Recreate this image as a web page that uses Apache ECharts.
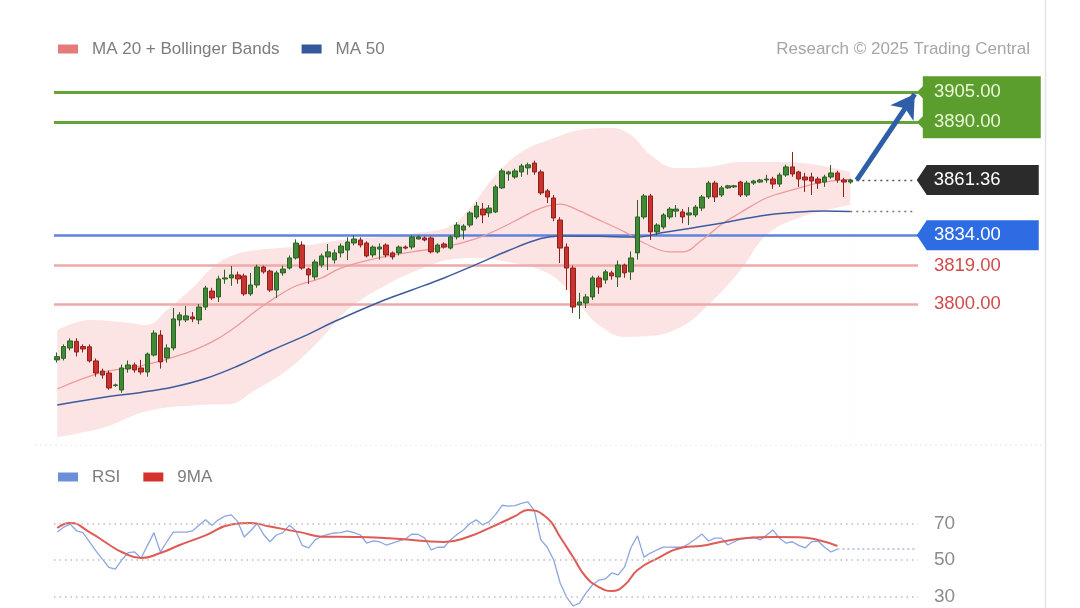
<!DOCTYPE html>
<html><head><meta charset="utf-8">
<script src="https://cdn.jsdelivr.net/npm/echarts/dist/echarts.min.js"></script>
<style>html,body{margin:0;padding:0;background:#fff}#c{width:1080px;height:608px}</style>
</head><body><div id="c"></div>
<script>
// ---- data ----
const opens  = [3772.3,3773.1,3778.2,3781.5,3778.9,3778.8,3771.8,3766.8,3765.8,3759.6,3757.4,3767.8,3769.8,3768.3,3766.3,3774.7,3784.6,3773.3,3778.2,3792.1,3792.1,3793.6,3792.1,3798.5,3806.4,3803.5,3812.4,3812.9,3814.4,3813.9,3805.0,3809.4,3818.3,3816.3,3806.9,3815.4,3817.8,3822.8,3829.2,3817.3,3813.4,3819.3,3823.3,3821.8,3825.3,3826.7,3830.2,3831.7,3830.2,3824.3,3827.2,3829.2,3825.3,3825.3,3828.2,3828.2,3832.2,3832.7,3832.7,3825.8,3829.7,3827.7,3833.2,3836.6,3839.1,3843.1,3847.0,3845.1,3845.6,3857.5,3864.4,3862.9,3865.4,3867.4,3869.8,3865.4,3856.0,3852.5,3841.6,3828.2,3817.8,3799.5,3800.5,3803.5,3812.9,3811.9,3815.4,3813.4,3819.3,3815.9,3825.3,3843.1,3853.5,3835.7,3838.1,3843.1,3846.0,3845.6,3844.1,3844.1,3847.5,3853.0,3859.9,3854.0,3857.5,3858.0,3860.4,3854.0,3859.9,3860.4,3861.4,3861.9,3859.4,3863.9,3867.9,3865.4,3862.9,3862.9,3861.9,3860.4,3862.9,3864.9,3861.4,3860.4];
const closes = [3773.9,3778.9,3781.7,3776.2,3777.7,3771.8,3765.8,3764.8,3758.4,3759.9,3768.3,3769.8,3767.3,3766.3,3775.2,3785.6,3771.3,3778.2,3792.6,3794.6,3794.1,3792.6,3798.5,3807.9,3803.0,3812.4,3812.9,3814.4,3812.4,3805.0,3809.4,3818.3,3815.9,3806.9,3815.4,3817.3,3822.8,3830.2,3817.8,3814.4,3820.8,3823.8,3825.8,3825.3,3828.7,3830.7,3832.2,3829.2,3823.8,3828.2,3828.2,3824.3,3823.3,3828.2,3827.7,3833.2,3833.2,3831.7,3825.8,3829.2,3828.2,3833.2,3839.1,3838.6,3845.1,3848.5,3844.1,3847.5,3858.0,3865.9,3865.4,3865.9,3868.4,3868.9,3865.4,3855.0,3853.0,3842.6,3827.7,3817.8,3798.5,3801.0,3803.5,3812.9,3808.4,3815.9,3813.9,3819.3,3815.4,3822.8,3843.1,3853.5,3835.7,3839.1,3844.1,3847.0,3847.0,3843.1,3845.1,3848.0,3853.0,3859.9,3853.0,3857.5,3858.5,3858.5,3854.0,3859.9,3860.9,3861.4,3861.9,3859.4,3863.9,3867.9,3864.4,3861.9,3861.4,3860.9,3859.9,3862.9,3864.9,3861.4,3860.4,3861.36];
const lows   = [3771,3772,3777,3774,3776,3771,3764,3763,3757.5,3759,3756,3766,3766,3765,3764,3774,3768,3771,3777,3789,3791,3791,3790,3797,3802,3801,3810,3809,3810,3804,3804,3808,3815,3806,3803,3814,3817,3822,3817,3810,3812,3818,3816.8,3820,3823,3821.8,3829,3828,3823,3823,3822,3823,3822,3824,3827,3827,3832,3831,3825,3825,3827.5,3827,3832,3832,3838,3842,3840,3843,3845,3857,3861,3862,3863,3864,3864,3854,3850,3841,3820.3,3806.9,3795.5,3792.6,3798,3802,3805,3810,3812,3808.4,3813,3811.9,3822,3842,3831.7,3834,3837,3842,3843,3840,3839.1,3843,3846,3852,3850.5,3853,3857,3857.5,3853,3853,3859,3860,3860,3857,3858,3863,3863,3858,3855.5,3854,3857,3858,3862,3860,3853,3859.5];
const highs  = [3776,3780,3783,3783,3780,3780,3773,3768,3767,3760.5,3770,3772,3771,3772.3,3776,3787,3787,3780,3798,3796,3799,3796,3800,3809,3808,3814,3817,3818.8,3816,3815,3815.4,3819.5,3819,3817,3816.5,3819,3824,3832,3831,3818,3822,3825,3829.7,3827,3830,3833,3834,3833,3831,3829,3830,3830,3826,3829,3829,3834,3834,3833.5,3833.5,3830,3830.5,3834,3840.5,3839.5,3846,3850.5,3850,3849,3859,3867,3866,3867,3869.5,3870,3871,3866.5,3857,3854,3843,3830,3819,3805.5,3805,3814,3814,3817,3816.5,3821.5,3820,3826,3851.5,3854.5,3854.5,3840,3845,3848,3849,3847,3848,3849,3854,3861,3861,3858.5,3859,3859,3861,3861,3861.5,3862,3864,3863,3865,3869,3875.3,3866,3865,3865,3863,3864,3868.8,3866,3862.5,3862];

// moving averages / bands: [candle index, value]
const ma20 = [[0,3757.9],[7,3766.1],[13,3769.3],[20,3775.7],[24,3781.2],[27,3787.1],[31,3797],[34,3803.5],[37,3808.9],[41,3812.9],[44,3817.8],[50,3823],[55,3825.8],[60,3828.2],[65,3832.4],[68,3836.4],[71,3841.1],[74,3846.1],[76,3848.5],[78,3849.5],[81,3846.1],[83,3843.1],[88,3835.7],[91,3830.2],[95,3825.8],[97,3825.8],[100,3831.7],[103,3839.4],[106,3845.3],[110,3852.5],[114,3856.5],[118,3859.9],[123,3861.7]];
const ma50 = [[0,3750],[8,3754.2],[13,3756.2],[18,3758.9],[23,3763.1],[28,3769.3],[33,3776.7],[39,3785.1],[43,3791.3],[50,3801],[55,3806.9],[60,3812.9],[65,3819.6],[70,3826.5],[75,3832.4],[78,3833.7],[84,3833.5],[90,3833.2],[94,3835.4],[98,3837.4],[104,3840.6],[109,3843.6],[114,3845.3],[119,3846.1],[123,3845.8]];
const bbUpper = [[0,3787.1],[5,3792.1],[10,3791.1],[14,3789.6],[17,3797],[21,3808],[24,3818],[27,3823.8],[31,3826.7],[38,3828.7],[44,3831.7],[50,3833.2],[56,3835.2],[61,3838.6],[64,3847.5],[68,3863.9],[72,3875.3],[77,3882.2],[81,3886.2],[86,3887.2],[89,3883.7],[92,3873.8],[96,3867.4],[101,3867.9],[106,3870.3],[112,3870.3],[117,3869.3],[123,3865.4]];
const bbLower = [[0,3734.1],[7,3738.6],[14,3747],[22,3750],[27,3750.5],[30,3755.9],[36,3768],[41,3783],[45,3797],[51,3809.4],[56,3816.8],[61,3822],[65,3822.8],[70,3820.8],[75,3816.8],[78,3810.9],[81,3799.5],[84,3789.6],[88,3783.7],[92,3784.1],[97,3789.1],[101,3799.5],[106,3816.8],[110,3834.2],[115,3842.6],[123,3849]];

const rsi = [65.3,68,69.7,66,65,60,55,50.5,46,45,50,54,54.4,51,58,65,54.4,60,65.3,65.3,65.3,66,69,72,69,72,74,74.7,71,62.6,66,70,64,60,63.7,65,69,66,58,56.6,61,63,64,64.8,65,66,65,63.7,59.3,60.5,60,58.2,59.3,60.5,61.5,64.2,64,62,55.5,57,57,61,64,66.4,70,72,69.2,71,75,80,79.5,79.8,81,81.8,77,61,57,50,37.4,29.7,24.8,26.4,31.9,36.3,39,39.6,42.9,41.8,46.2,57,63.2,51.6,53.8,55.5,57.1,57.1,57,57.1,59,61.5,64.2,60.4,62,62,58.2,60,61.5,62,62.6,61,63.5,66.4,62,59.3,60,58,56.6,60,60.4,57,54.4,56];
const rsiMA = [[0,67.5],[2,70.3],[5,65.3],[8,58.5],[10,54.4],[13,51.1],[16,53.8],[19,58.2],[23,63.5],[27,69.5],[30,70.3],[33,68.3],[38,65],[41,62.8],[46,62.6],[52,61.8],[57,60.4],[60,59.9],[64,63],[67,67.5],[71,74],[73,77.4],[76,73],[78,62.6],[80,51.6],[82,40.7],[84,35.2],[86,33],[88,36.3],[90,44.5],[93,50.7],[97,56.9],[100,57.8],[103,60],[107,62],[111,62.6],[115,62.5],[118,61],[121,57.7]];

const resistances = [3905, 3890];
const pivot = 3834;
const supports = [3819, 3800];
const lastPrice = 3861.36;
const arrowTarget = 3904;
const rsiLevels = [30, 50, 70];
const N_CAT = 134;

// ---- build ----
const categories = Array.from({length: N_CAT}, (_, i) => 'D' + (i + 1));
const candleData = opens.map((o, i) => [o, closes[i], lows[i], highs[i]]);
const lastIdx = opens.length - 1;
const endIdx = N_CAT - 1;
const ma50Last = ma50[ma50.length - 1][1];
const rsiLast = rsi[rsi.length - 1];
const FONT = "'Liberation Sans', Arial, sans-serif";
const fmt = p => Number(p.value).toFixed(2);

const greenBox = 'path://M6,0 L124,0 L124,62 L6,62 L6,52 L0,46 L6,40 L6,22 L0,16 L6,10 Z';
const tagBox = 'path://M10,0 L122,0 L122,30 L10,30 L0,15 Z';

const legendText = {color: '#7d7d7d', fontSize: 17, fontFamily: FONT, padding: [0, 0, 0, 9]};

const chart = echarts.init(document.getElementById('c'), null, {renderer: 'canvas'});
chart.setOption({
  animation: false,
  backgroundColor: '#ffffff',
  title: {text: 'Research © 2025 Trading Central', right: 45, top: 35.5,
    textStyle: {color: '#a6a6a6', fontSize: 17, fontWeight: 'normal', fontFamily: FONT}},
  legend: [
    {data: ['MA 20 + Bollinger Bands', 'MA 50'], left: 53, top: 35.5, icon: 'rect', itemWidth: 20, itemHeight: 9, itemGap: 22,
     textStyle: legendText},
    {data: ['RSI', '9MA'], left: 53, top: 463.5, icon: 'rect', itemWidth: 20, itemHeight: 9, itemGap: 23,
     textStyle: legendText}
  ],
  grid: [
    {left: 54, right: 162, top: 71.8, height: 373.5},
    {left: 54, right: 162, top: 487, height: 121}
  ],
  xAxis: [
    {type: 'category', gridIndex: 0, data: categories, boundaryGap: true, show: false},
    {type: 'category', gridIndex: 1, data: categories, boundaryGap: true, show: false}
  ],
  yAxis: [
    {type: 'value', gridIndex: 0, min: 3730, max: 3915, show: false},
    {type: 'value', gridIndex: 1, min: 23.7, max: 90, show: false}
  ],
  graphic: [
    {type: 'line', shape: {x1: 35, y1: 445, x2: 1045, y2: 445}, style: {stroke: '#e6e6e6', lineWidth: 1, lineDash: [2, 3]}, silent: true},
    {type: 'line', shape: {x1: 1045.5, y1: 0, x2: 1045.5, y2: 608}, style: {stroke: '#e3e3e3', lineWidth: 1.5}, silent: true}
  ],
  series: [
    {type: 'line', name: 'bbU', data: bbUpper, smooth: 0.4, symbol: 'none', silent: true, z: 0,
     lineStyle: {width: 0}, areaStyle: {color: '#fde4e4', opacity: 1}},
    {type: 'line', name: 'bbL', data: bbLower, smooth: 0.4, symbol: 'none', silent: true, z: 0,
     lineStyle: {width: 0}, areaStyle: {color: '#ffffff', opacity: 1}},
    {type: 'line', name: 'levels', data: [], silent: true, z: 1,
     markLine: {silent: true, symbol: 'none', z: 1, label: {show: false}, animation: false,
       data: [
         ...resistances.map(v => ({yAxis: v, lineStyle: {color: '#66a336', width: 3, type: 'solid'}})),
         {yAxis: pivot, lineStyle: {color: '#5c83df', width: 2.5, type: 'solid'}},
         ...supports.map(v => ({yAxis: v, lineStyle: {color: '#eeaaaa', width: 2.5, type: 'solid'}})),
         [{coord: [lastIdx, lastPrice]}, {coord: [endIdx, lastPrice], lineStyle: {color: '#555', width: 1.3, type: [2, 4]}}],
         [{coord: [lastIdx, ma50Last]}, {coord: [endIdx, ma50Last], lineStyle: {color: '#777', width: 1.3, type: [2, 4]}}]
       ]}},
    {type: 'line', name: 'MA 20 + Bollinger Bands', data: ma20, smooth: 0.4, symbol: 'none', z: 2,
     itemStyle: {color: '#e57a7a'}, lineStyle: {color: '#ec9a9a', width: 1.3}},
    {type: 'line', name: 'MA 50', data: ma50, smooth: 0.4, symbol: 'none', z: 2,
     itemStyle: {color: '#35589b'}, lineStyle: {color: '#3d5c9e', width: 1.5}},
    {type: 'candlestick', name: 'price', data: candleData, barWidth: 5, z: 3,
     itemStyle: {color: '#3f8b35', color0: '#c9322d', borderColor: '#2b6024', borderColor0: '#8f201c', borderWidth: 1}},
    {type: 'line', name: 'boxes', data: [], silent: true,
     markPoint: {silent: true, z: 4, label: {show: false}, animation: false,
       data: [
         {coord: [endIdx, (resistances[0] + resistances[1]) / 2], symbol: greenBox, symbolSize: [124, 62], symbolOffset: [64, 0], itemStyle: {color: '#5c9e2d'}},
         {coord: [endIdx, lastPrice], symbol: tagBox, symbolSize: [122, 30], symbolOffset: [63, 0], itemStyle: {color: '#2b2b2b'}},
         {coord: [endIdx, pivot], symbol: tagBox, symbolSize: [122, 30], symbolOffset: [63, 0], itemStyle: {color: '#2e6ce4'}}
       ]}},
    {type: 'line', name: 'labels', data: [], silent: true,
     markLine: {silent: true, symbol: 'none', z: 6, animation: false,
       lineStyle: {width: 0, color: 'rgba(0,0,0,0)'},
       label: {show: true, position: 'end', distance: 16, fontSize: 18.5, fontFamily: FONT, formatter: fmt},
       data: [
         ...resistances.map(v => ({yAxis: v, label: {color: '#eaf7d8'}})),
         {yAxis: pivot, label: {color: '#ffffff'}},
         ...supports.map(v => ({yAxis: v, label: {color: '#d24b4b'}})),
         [{coord: [lastIdx, lastPrice], label: {color: '#ffffff', distance: 19, formatter: () => lastPrice.toFixed(2)}}, {coord: [endIdx, lastPrice]}]
       ]}},
    {type: 'line', name: 'arrow', data: [], silent: true,
     markLine: {silent: true, z: 5, animation: false, symbol: ['none', 'arrow'], symbolSize: [21, 23],
       label: {show: false},
       lineStyle: {color: '#2f5ea8', width: 5, type: 'solid'},
       data: [[{coord: [lastIdx + 1, lastPrice]}, {coord: [endIdx, arrowTarget]}]]}},
    {type: 'line', name: 'rsiLevels', xAxisIndex: 1, yAxisIndex: 1, data: [], silent: true, z: 1,
     markLine: {silent: true, symbol: 'none', animation: false,
       lineStyle: {color: '#bdbdbd', width: 1.5, type: [1.5, 4]},
       label: {show: true, position: 'end', distance: 16, color: '#8c8c8c', fontSize: 19, fontFamily: FONT, formatter: p => String(p.value)},
       data: rsiLevels.map(v => ({yAxis: v}))}},
    {type: 'line', name: 'RSI', xAxisIndex: 1, yAxisIndex: 1, data: rsi, symbol: 'none', z: 2,
     itemStyle: {color: '#6c8fd9'}, lineStyle: {color: '#8ba6e3', width: 1.3},
     markLine: {silent: true, symbol: 'none', label: {show: false}, animation: false,
       data: [[{coord: [rsi.length - 1, rsiLast]}, {coord: [endIdx, rsiLast], lineStyle: {color: '#a3b8ea', width: 1.5, type: [2, 3]}}]]}},
    {type: 'line', name: '9MA', xAxisIndex: 1, yAxisIndex: 1, data: rsiMA, smooth: 0.5, symbol: 'none', z: 3,
     itemStyle: {color: '#d5342c'}, lineStyle: {color: '#df5b56', width: 2}}
  ]
});
</script></body></html>
